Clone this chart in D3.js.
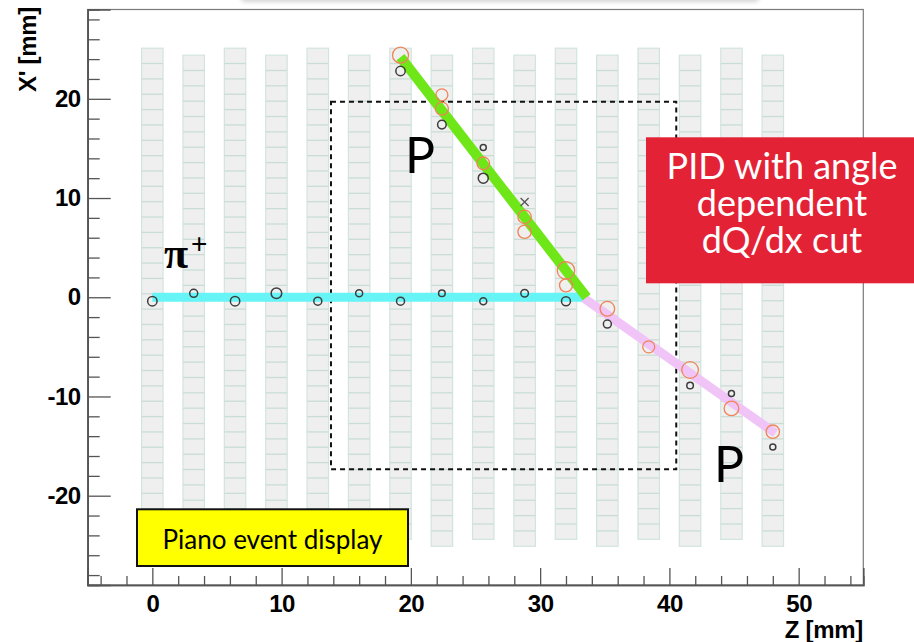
<!DOCTYPE html>
<html>
<head>
<meta charset="utf-8">
<script src="https://cdn.jsdelivr.net/npm/d3@7"></script>
<style>
  html, body { margin: 0; padding: 0; background: #fff; }
  svg { display: block; }
</style>
</head>
<body>
<svg id="chart" width="914" height="642"></svg>
<script>
// ---------------- DATA ----------------
const xDomain = [-5, 55];
const yDomain = [-29, 29];
const xTickValues = [0, 10, 20, 30, 40, 50];
const yTickValues = [-20, -10, 0, 10, 20];
const xTickLabels = ["0", "10", "20", "30", "40", "50"];
const yTickLabels = ["-20", "-10", "0", "10", "20"];

// detector strips (Z centre, top and bottom edge in X')
const stripZ      = [0, 3.2, 6.4, 9.6, 12.8, 16, 19.2, 22.4, 25.6, 28.8, 32, 35.2, 38.4, 41.6, 44.8, 48];
const stripTop    = [25.1, 24.4, 25.1, 24.4, 25.1, 24.4, 25.1, 24.4, 25.1, 24.4, 25.1, 24.4, 25.1, 24.4, 25.1, 24.4];
const stripBottom = [-24.4, -25.1, -24.4, -25.1, -24.4, -25.1, -24.4, -25.1, -24.4, -25.1, -24.4, -25.1, -24.4, -25.1, -24.4, -25.1];
const cellsPerStrip = 32;

// fitted tracks: [z, x'] end points
const trackPion   = [[0, 0], [33.4, 0]];
const trackProton1 = [[19.2, 24.2], [33.6, 0]];
const trackProton2 = [[33.4, -0.1], [48.2, -13.7]];

// raw hits (black) : z, x', charge
const hitZ = [0, 3.2, 6.4, 9.6, 12.8, 16, 19.2, 22.4, 25.6, 28.8, 32, 19.2, 22.4, 25.6, 25.6, 35.2, 41.6, 44.8, 48];
const hitX = [-0.4, 0.4, -0.4, 0.4, -0.4, 0.4, -0.4, 0.4, -0.4, 0.4, -0.4, 22.8, 17.4, 15.1, 12.0, -2.7, -8.9, -9.7, -15.1];
const hitQ = [4.7, 4, 4.7, 5.3, 4, 3.5, 4, 3.3, 3.5, 3.8, 4.5, 4.7, 4.3, 3, 5, 4, 3.3, 3, 3];

// reconstructed clusters (orange) : z, x', charge
const clusZ = [19.2, 22.4, 22.4, 25.6, 28.8, 28.8, 32, 32, 35.2, 38.4, 41.6, 44.8, 48];
const clusX = [24.4, 20.4, 19.0, 13.5, 8.1, 6.6, 2.7, 1.2, -1.16, -5.0, -7.33, -11.2, -13.55];
const clusQ = [8, 6, 6.5, 6.3, 6.7, 6.7, 8.7, 6.5, 7.3, 6, 8.3, 7.3, 6.7];

// rejected hit (cross)
const crossZ = [28.8];
const crossX = [9.6];

// analysis region
const boxZ = [13.82, 40.53];
const boxX = [-17.34, 19.7];

// ---------------- DRAWING ----------------
const svg = d3.select("#chart");
const L = 87.7, R = 863.3, T = 9.5, B = 585;

const x = d3.scaleLinear().domain(xDomain).range([L, R]);
const y = d3.scaleLinear().domain(yDomain).range([B, T]);
const rq = d3.scaleLinear().domain([0, 1]).range([0, 1]);

// faint shadow of a cut-off title box at the very top
const defs = svg.append("defs");
defs.append("filter").attr("id", "blur").attr("x", "-20%").attr("y", "-200%").attr("width", "140%").attr("height", "500%")
  .append("feGaussianBlur").attr("stdDeviation", 2);
svg.append("rect").attr("x", 240).attr("y", -12).attr("width", 520).attr("height", 14)
  .attr("rx", 6).attr("fill", "#d4d4d4").attr("filter", "url(#blur)");
svg.append("rect").attr("x", 236).attr("y", -20).attr("width", 528).attr("height", 20)
  .attr("rx", 6).attr("fill", "#fff");

// frame
svg.append("rect").attr("x", L).attr("y", T).attr("width", R - L).attr("height", B - T)
  .attr("fill", "none").attr("stroke", "#7a7a7a").attr("stroke-width", 1.2);

// strips
const stripW = 1.66;
const gStrips = svg.append("g");
stripZ.forEach((z, i) => {
  const top = stripTop[i], bot = stripBottom[i];
  const pitch = (top - bot) / cellsPerStrip;
  gStrips.append("rect")
    .attr("x", x(z - stripW / 2)).attr("y", y(top))
    .attr("width", x(z + stripW / 2) - x(z - stripW / 2))
    .attr("height", y(bot) - y(top))
    .attr("fill", "#efefef").attr("stroke", "#d2e4de").attr("stroke-width", 1.2);
  for (let k = 1; k < cellsPerStrip; k++) {
    gStrips.append("line")
      .attr("x1", x(z - stripW / 2)).attr("x2", x(z + stripW / 2))
      .attr("y1", y(top - k * pitch)).attr("y2", y(top - k * pitch))
      .attr("stroke", "#c9ddd6").attr("stroke-width", 1.3);
  }
});

// dashed analysis region
svg.append("rect")
  .attr("x", x(boxZ[0])).attr("y", y(boxX[1]))
  .attr("width", x(boxZ[1]) - x(boxZ[0])).attr("height", y(boxX[0]) - y(boxX[1]))
  .attr("fill", "none").attr("stroke", "#111").attr("stroke-width", 2)
  .attr("stroke-dasharray", "5,4");

// tracks
const line = d3.line().x(d => x(d[0])).y(d => y(d[1]));
svg.append("path").attr("d", line(trackPion)).attr("stroke", "#66f4f7").attr("stroke-width", 9).attr("fill", "none");
svg.append("path").attr("d", line(trackProton2)).attr("stroke", "#f0c4f7").attr("stroke-width", 9).attr("fill", "none");
svg.append("path").attr("d", line(trackProton1)).attr("stroke", "#6ee617").attr("stroke-width", 10).attr("fill", "none");

// hits
svg.append("g").selectAll("circle").data(hitZ).join("circle")
  .attr("cx", (d) => x(d)).attr("cy", (d, i) => y(hitX[i])).attr("r", (d, i) => rq(hitQ[i]))
  .attr("fill", "none").attr("stroke", "#3d3d3d").attr("stroke-width", 1.5);

svg.append("g").selectAll("circle").data(clusZ).join("circle")
  .attr("cx", (d) => x(d)).attr("cy", (d, i) => y(clusX[i])).attr("r", (d, i) => rq(clusQ[i]))
  .attr("fill", "none").attr("stroke", "#ef8458").attr("stroke-width", 1.3);

svg.append("g").selectAll("path").data(crossZ).join("path")
  .attr("d", (d, i) => {
    const cx = x(d), cy = y(crossX[i]), s = 4;
    return `M${cx - s},${cy - s}L${cx + s},${cy + s}M${cx - s},${cy + s}L${cx + s},${cy - s}`;
  })
  .attr("stroke", "#555").attr("stroke-width", 1.3);

// axes
const tickFont = "'Liberation Sans', Arial, Helvetica, sans-serif";
const yAxis = svg.append("g").attr("transform", `translate(${L},0)`)
  .call(d3.axisLeft(y).tickValues(yTickValues).tickFormat((d, i) => yTickLabels[i]).tickSize(-23).tickPadding(7));
const yMinor = svg.append("g").attr("transform", `translate(${L},0)`)
  .call(d3.axisLeft(y).tickValues(d3.range(-28, 29, 2).filter(v => v % 10 !== 0)).tickFormat("").tickSize(-12));
const xAxis = svg.append("g").attr("transform", `translate(0,${B})`)
  .call(d3.axisBottom(x).tickValues(xTickValues).tickFormat((d, i) => xTickLabels[i]).tickSize(-17).tickPadding(10));
const xMinor = svg.append("g").attr("transform", `translate(0,${B})`)
  .call(d3.axisBottom(x).tickValues(d3.range(-4, 55, 2).filter(v => v % 10 !== 0)).tickFormat("").tickSize(-9));

[yAxis, yMinor, xAxis, xMinor].forEach(g => {
  g.select(".domain").attr("stroke", "#555").attr("stroke-width", 1.6);
  g.selectAll(".tick line").attr("stroke", "#555").attr("stroke-width", 1.3);
  g.selectAll(".tick text").attr("fill", "#000").attr("font-family", tickFont)
    .attr("font-weight", "bold").attr("font-size", 24).attr("letter-spacing", "-0.5px");
});

// axis titles
svg.append("text").attr("transform", "translate(36,7) rotate(-90)")
  .attr("text-anchor", "end").attr("font-family", tickFont).attr("font-weight", "bold")
  .attr("font-size", 24).attr("letter-spacing", "-0.3px").text("X' [mm]");
svg.append("text").attr("x", 863).attr("y", 638)
  .attr("text-anchor", "end").attr("font-family", tickFont).attr("font-weight", "bold")
  .attr("font-size", 24).attr("letter-spacing", "-0.3px").text("Z [mm]");

// particle labels
const humanist = "Lato, 'Open Sans', sans-serif";
svg.append("text").attr("x", 405).attr("y", 173).attr("font-family", humanist).attr("font-weight", 400)
  .attr("font-size", 50).attr("fill", "#000").text("P");
svg.append("text").attr("x", 714).attr("y", 482).attr("font-family", humanist).attr("font-weight", 400)
  .attr("font-size", 50).attr("fill", "#000").text("P");
svg.append("text").attr("x", 164).attr("y", 268).attr("font-family", "'Liberation Serif', 'DejaVu Serif', serif")
  .attr("font-weight", "bold").attr("font-size", 44).text("π");
svg.append("text").attr("x", 191).attr("y", 253).attr("font-family", "'Liberation Sans', Arial, sans-serif")
  .attr("font-size", 28).text("+");

// yellow caption box
svg.append("rect").attr("x", 137).attr("y", 509.3).attr("width", 271).attr("height", 56.7)
  .attr("fill", "#ffff00").attr("stroke", "#111").attr("stroke-width", 2);
svg.append("text").attr("x", 272.5).attr("y", 549).attr("text-anchor", "middle")
  .attr("font-family", humanist).attr("font-size", 26).attr("fill", "#000").text("Piano event display");

// red annotation box
svg.append("rect").attr("x", 646).attr("y", 137.3).attr("width", 270).attr("height", 146)
  .attr("fill", "#e32236");
const redLines = ["PID with angle", "dependent", "dQ/dx cut"];
svg.append("g").selectAll("text").data(redLines).join("text")
  .attr("x", 782).attr("y", (d, i) => 179 + i * 37).attr("text-anchor", "middle")
  .attr("font-family", humanist).attr("font-size", 36).attr("fill", "#fff").text(d => d);
</script>
</body>
</html>
